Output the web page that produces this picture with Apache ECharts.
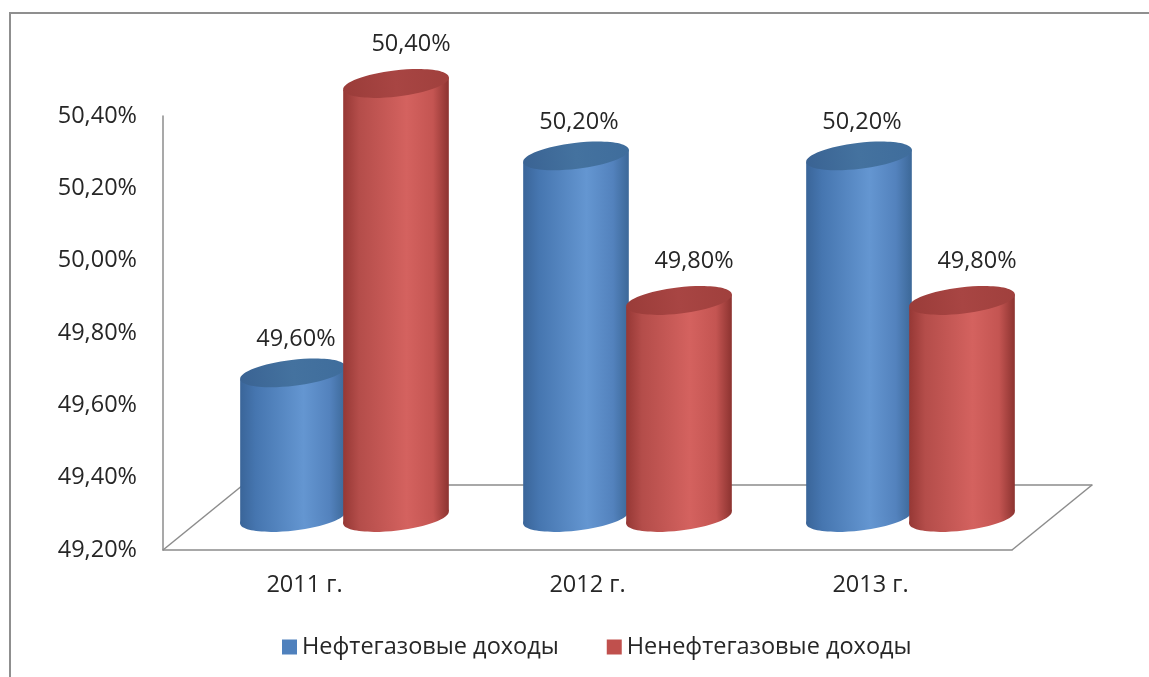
<!DOCTYPE html>
<html>
<head>
<meta charset="utf-8">
<script src="https://cdn.jsdelivr.net/npm/echarts@6/dist/echarts.min.js"></script>
<style>
    html, body { margin: 0; padding: 0; background: #fff; }
    #chart { width: 1149px; height: 677px; }
</style>
</head>
<body>
<div id="chart"></div>
<script>
    // данные
    const years = ['2011 г.', '2012 г.', '2013 г.']
    const oilGas = [49.6, 50.2, 50.2]       // Нефтегазовые доходы
    const nonOilGas = [50.4, 49.8, 49.8]    // Ненефтегазовые доходы
    const axisMin = 49.2
    const axisMax = 50.4
    const axisStep = 0.2

    const FONT = '"Open Sans", "Noto Sans", sans-serif'
    const FS = 23.5
    const TEXT = '#262626'
    const LINE = '#8c8c8c'

    // передняя плоскость осей и смещение "глубины" для 3D
    const front = { left: 163, right: 137, top: 116, bottom: 127 }
    const depth = { dx: 80, dy: -65 }
    const shift = (g, k) => ({
        left: g.left + depth.dx * k,
        right: g.right - depth.dx * k,
        top: g.top + depth.dy * k,
        bottom: g.bottom - depth.dy * k
    })

    const pct = v => v.toFixed(2).replace('.', ',') + '%'

    const palette = {
        blue: {
            body: ['#3a6599', '#4676b0', '#6496d1', '#5382bd', '#3c6898'],
            top: ['#3a6393', '#44729f', '#3f6d9c'],
            base: '#4f81bd'
        },
        red: {
            body: ['#963835', '#b44d4a', '#d4625f', '#c45552', '#8c3330'],
            top: ['#9a3c39', '#a84543', '#a0403d'],
            base: '#c0504d'
        }
    }

    function cylinder(side, colors, label) {
        return function (params, api) {
            const cat = api.value(0)
            const val = api.value(1)
            const top = api.coord([cat, val])
            const base = api.coord([cat, axisMin])
            const band = api.size([1, 0])[0]
            const cx = top[0] + side * band * 0.182
            const rx = band * 0.188
            const ry = 13
            const th = 0.12
            const ddx = rx * Math.cos(th), ddy = rx * Math.sin(th)
            const bodyFill = new echarts.graphic.LinearGradient(0, 0, 1, 0, [
                { offset: 0, color: colors.body[0] },
                { offset: 0.15, color: colors.body[1] },
                { offset: 0.6, color: colors.body[2] },
                { offset: 0.85, color: colors.body[3] },
                { offset: 1, color: colors.body[4] }
            ])
            const topFill = new echarts.graphic.LinearGradient(0, 0, 1, 0, [
                { offset: 0, color: colors.top[0] },
                { offset: 0.5, color: colors.top[1] },
                { offset: 1, color: colors.top[2] }
            ])
            return {
                type: 'group',
                children: [
                    {
                        type: 'ellipse',
                        shape: { cx: cx, cy: base[1], rx: rx, ry: ry },
                        rotation: th, originX: cx, originY: base[1],
                        style: { fill: bodyFill }
                    },
                    {
                        type: 'polygon',
                        shape: { points: [
                            [cx - ddx, top[1] + ddy], [cx + ddx, top[1] - ddy],
                            [cx + ddx, base[1] - ddy], [cx - ddx, base[1] + ddy]
                        ] },
                        style: { fill: bodyFill }
                    },
                    {
                        type: 'ellipse',
                        shape: { cx: cx, cy: top[1], rx: rx, ry: ry },
                        rotation: th, originX: cx, originY: top[1],
                        style: { fill: topFill }
                    },
                    {
                        type: 'text',
                        style: {
                            text: pct(val),
                            x: cx + label.dx, y: top[1] + label.dy,
                            align: 'center', verticalAlign: 'middle',
                            textAlign: 'center', textVerticalAlign: 'middle',
                            fontSize: FS, fontFamily: FONT, fill: TEXT
                        }
                    }
                ]
            }
        }
    }

    const chart = echarts.init(document.getElementById('chart'))
    const gMid = shift(front, 0.5)
    const gBack = shift(front, 1)
    const yBase = { type: 'value', min: axisMin, max: axisMax, interval: axisStep }

    chart.setOption({
        backgroundColor: '#fff',
        animation: false,
        grid: [front, gMid, gBack],
        xAxis: [
            {
                type: 'category', data: years, gridIndex: 0,
                axisLine: { lineStyle: { color: LINE, width: 1.5 } },
                axisTick: { show: false },
                axisLabel: { margin: 23, fontSize: FS, fontFamily: FONT, color: TEXT }
            },
            { type: 'category', data: years, gridIndex: 1, show: false },
            {
                type: 'category', data: years, gridIndex: 2,
                axisLine: { lineStyle: { color: LINE, width: 1.5 } },
                axisTick: { show: false }, axisLabel: { show: false }
            }
        ],
        yAxis: [
            Object.assign({}, yBase, {
                gridIndex: 0,
                axisLine: { show: true, lineStyle: { color: LINE, width: 1.5 } },
                axisTick: { show: false },
                splitLine: { show: false },
                axisLabel: { margin: 26, fontSize: FS, fontFamily: FONT, color: TEXT, formatter: pct }
            }),
            Object.assign({}, yBase, { gridIndex: 1, show: false, splitLine: { show: false } }),
            Object.assign({}, yBase, { gridIndex: 2, show: false, splitLine: { show: false } })
        ],
        legend: {
            left: 277, top: 630,
            icon: 'rect', itemWidth: 15, itemHeight: 15, itemGap: 48,
            textStyle: { fontSize: FS, fontFamily: FONT, color: TEXT },
            data: [
                { name: 'Нефтегазовые доходы', itemStyle: { color: palette.blue.base } },
                { name: 'Ненефтегазовые доходы', itemStyle: { color: palette.red.base } }
            ]
        },
        graphic: [
            {
                type: 'rect', silent: true,
                shape: { x: 10, y: 13, width: 1400, height: 900 },
                style: { fill: 'none', stroke: '#8f8f8f', lineWidth: 2 }
            },
            {
                type: 'line', silent: true,
                shape: { x1: front.left, y1: 677 - front.bottom, x2: gBack.left, y2: 677 - gBack.bottom },
                style: { stroke: LINE, lineWidth: 1.5 }
            },
            {
                type: 'line', silent: true,
                shape: { x1: 1149 - front.right, y1: 677 - front.bottom, x2: 1149 - gBack.right, y2: 677 - gBack.bottom },
                style: { stroke: LINE, lineWidth: 1.5 }
            }
        ],
        series: [
            {
                name: 'Нефтегазовые доходы', type: 'custom',
                xAxisIndex: 1, yAxisIndex: 1,
                itemStyle: { color: palette.blue.base },
                encode: { x: 0, y: 1 },
                data: oilGas.map((v, i) => [i, v]),
                renderItem: cylinder(-1, palette.blue, { dx: 3, dy: -34 })
            },
            {
                name: 'Ненефтегазовые доходы', type: 'custom',
                xAxisIndex: 1, yAxisIndex: 1,
                itemStyle: { color: palette.red.base },
                encode: { x: 0, y: 1 },
                data: nonOilGas.map((v, i) => [i, v]),
                renderItem: cylinder(1, palette.red, { dx: 15, dy: -39 })
            }
        ]
    })
</script>
</body>
</html>
